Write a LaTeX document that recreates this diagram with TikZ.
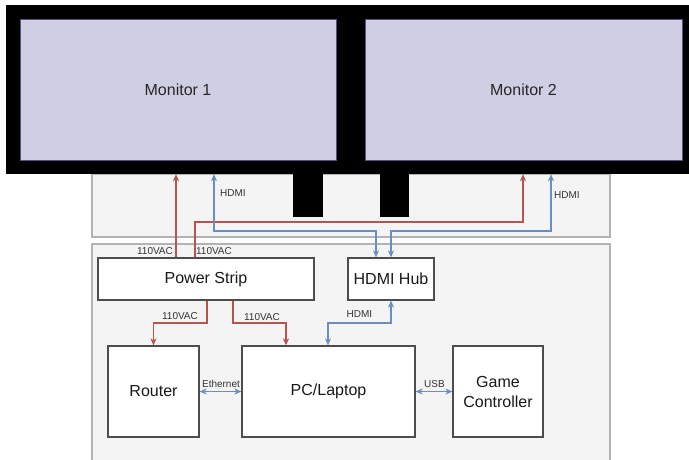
\documentclass[tikz,border=0pt]{standalone}
\usepackage{fontspec}
\setmainfont{Liberation Sans}
\usetikzlibrary{arrows.meta}
\definecolor{pwr}{HTML}{B85450}
\definecolor{sig}{HTML}{6C8EBF}
\definecolor{screenfill}{HTML}{D0CEE2}
\definecolor{screenedge}{HTML}{56517E}
\definecolor{zonefill}{HTML}{F4F4F4}
\definecolor{zoneedge}{HTML}{B3B3B3}
\definecolor{boxedge}{HTML}{4D4D4D}
\definecolor{labeltext}{HTML}{333333}
\begin{document}
\begin{tikzpicture}[x=1pt,y=-1pt,
  zone/.style={rectangle, draw=zoneedge, fill=zonefill, line width=1.3pt, inner sep=0pt},
  bezel/.style={rectangle, fill=black, draw=none, inner sep=0pt},
  screen/.style={rectangle, draw=screenedge, fill=screenfill, line width=0.8pt, inner sep=0pt,
                 font=\fontsize{16}{20}\selectfont, text=black!85},
  unit/.style={rectangle, draw=boxedge, fill=white, line width=1.2pt, inner sep=0pt,
               font=\fontsize{16}{20}\selectfont, align=center, text=black!90},
  powerline/.style={draw=pwr, line width=1.2pt, -{Stealth[length=7pt,width=6pt,inset=2pt]}},
  signalline/.style={draw=sig, line width=1.2pt,
                     {Stealth[length=7pt,width=6pt,inset=2pt]}-{Stealth[length=7pt,width=6pt,inset=2pt]}},
  lbl/.style={font=\fontsize{10}{12}\selectfont, text=labeltext, inner sep=0pt}
]
\useasboundingbox (0,0) rectangle (689,460);

% desk zones
\node[zone, minimum width=518, minimum height=63]  (upperzone) at (351,205.5) {};
\node[zone, minimum width=518, minimum height=222] (lowerzone) at (351,355) {};

% monitor stands and bezel
\node[bezel, minimum width=30, minimum height=44] (standL) at (308,195) {};
\node[bezel, minimum width=29, minimum height=44] (standR) at (394.5,195) {};
\node[bezel, minimum width=683, minimum height=169] (frame) at (347.5,89.5) {};

% screens
\node[screen, minimum width=316, minimum height=141] (mon1) at (178,89.5) {Monitor 1};
\node[screen, minimum width=317, minimum height=141] (mon2) at (523.5,89.5) {Monitor 2};

% devices
\node[unit, minimum width=216, minimum height=42] (power)  at (206,279)     {Power Strip};
\node[unit, minimum width=86,  minimum height=42] (hub)    at (391,279)     {HDMI Hub};
\node[unit, minimum width=91,  minimum height=91] (router) at (153.5,391.5) {Router};
\node[unit, minimum width=173, minimum height=91] (pc)     at (328.5,391.5) {PC/Laptop};
\node[unit, minimum width=90,  minimum height=91] (game)   at (498,391.5)   {Game\\Controller};

% routing points
\coordinate (xa)  at (176,0);
\coordinate (xb)  at (195,0);
\coordinate (rb)  at (523,222);
\coordinate (ha)  at (214,231);
\coordinate (hb)  at (376,0);
\coordinate (hc)  at (551,231);
\coordinate (hd)  at (391,0);
\coordinate (rc)  at (207,323);
\coordinate (rd)  at (233,323);
\coordinate (rde) at (286,0);
\coordinate (he)  at (328,323);

% power feeds
\draw[powerline] (power.north -| xa) -- (frame.south -| xa);
\draw[powerline] (power.north -| xb) |- (rb) -- (frame.south -| rb);
\draw[powerline] (power.south -| rc) -- (rc) -| (router.north);
\draw[powerline] (power.south -| rd) -- (rd) -| (pc.north -| rde);

% signal links
\draw[signalline] (frame.south -| ha) -- (ha) -| (hub.north -| hb);
\draw[signalline] (frame.south -| hc) -- (hc) -| (hub.north -| hd);
\draw[signalline] (pc.north -| he) -- (he) -| (hub.south -| hd);
\draw[signalline] (router.east) -- (pc.west);
\draw[signalline] (pc.east) -- (game.west);

% link labels
\node[lbl] (l1) at (155,251) {110VAC};
\node[lbl] (l2) at (214,251) {110VAC};
\node[lbl] (l3) at (233,193) {HDMI};
\node[lbl] (l4) at (567,195) {HDMI};
\node[lbl] (l5) at (180,316) {110VAC};
\node[lbl] (l6) at (262,317) {110VAC};
\node[lbl] (l7) at (359.5,314) {HDMI};
\node[lbl] (l8) at (221,384) {Ethernet};
\node[lbl] (l9) at (434.5,384) {USB};
\end{tikzpicture}
\end{document}
